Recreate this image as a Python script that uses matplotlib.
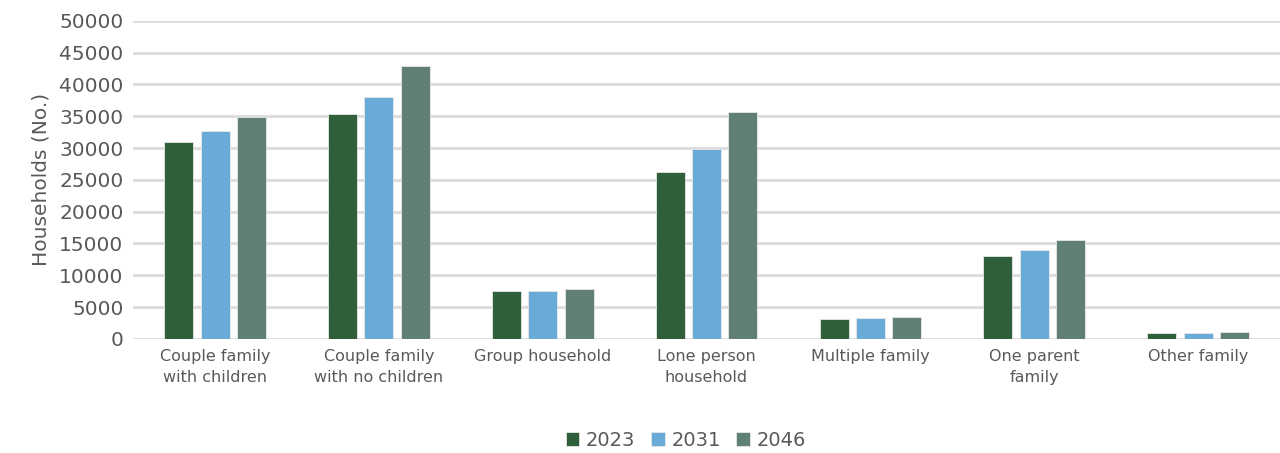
import numpy as np
import matplotlib.pyplot as plt

plt.rcParams['font.family'] = ['DejaVu Sans']

categories = ['Couple family\nwith children', 'Couple family\nwith no children', 'Group household',
              'Lone person\nhousehold', 'Multiple family', 'One parent\nfamily', 'Other family']
years = ['2023', '2031', '2046']
v2023 = [31000, 35300, 7600, 26300, 3150, 13100, 950]
v2031 = [32700, 38000, 7550, 29800, 3300, 14000, 980]
v2046 = [34900, 42900, 7850, 35700, 3450, 15550, 1100]
colors = ['#2f603b', '#6aaad6', '#5f7f77']

fig = plt.figure(figsize=(12.8, 4.53), dpi=100)
ax = fig.add_axes([0.104, 0.252, 0.896, 0.702])

x = np.arange(len(categories))
w = 0.177
off = 0.222
for i, (vals, c, yr) in enumerate(zip([v2023, v2031, v2046], colors, years)):
    ax.bar(x + (i - 1) * off, vals, width=w, color=c, label=yr,
           edgecolor='#e8e8e8', linewidth=0.6, zorder=3)

ax.set_xlim(-0.5, 6.5)
ax.set_ylim(0, 50000)
ax.set_yticks(range(0, 50001, 5000))
ax.yaxis.grid(True, color='#dcdcdc', linewidth=2)
ax.set_axisbelow(True)
for s in ax.spines.values():
    s.set_visible(False)
ax.tick_params(axis='both', length=0, colors='#595959')
ax.tick_params(axis='y', labelsize=14.5, pad=7)
ax.tick_params(axis='x', labelsize=11.5, pad=7)
ax.set_xticks(x)
ax.set_xticklabels(categories, linespacing=1.5)
ax.set_ylabel('Households (No.)', fontsize=14.5, color='#595959', labelpad=6)

ax.legend(loc='center', bbox_to_anchor=(0.482, -0.32), ncol=3, frameon=False,
          fontsize=14, handlelength=0.7, handleheight=0.7, handletextpad=0.35,
          columnspacing=0.8, labelcolor='#595959')

fig.savefig('out.png', dpi=100)
